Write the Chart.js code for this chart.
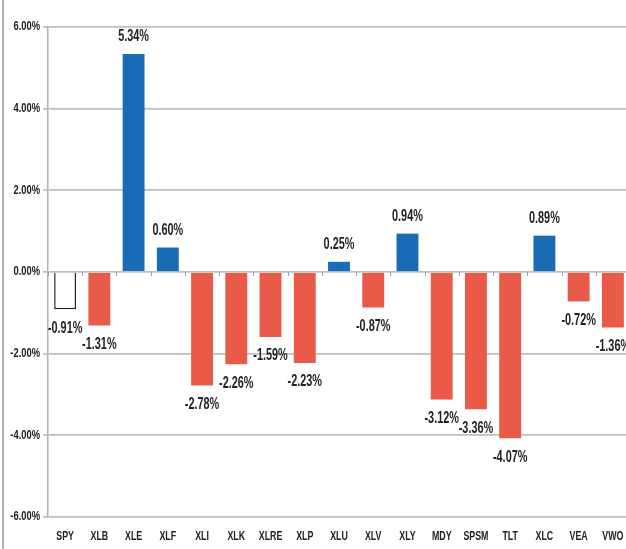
<!DOCTYPE html>
<html>
<head>
<meta charset="utf-8">
<script src="https://cdn.jsdelivr.net/npm/chart.js@4"></script>
<style>
	html, body { margin: 0; padding: 0; background: #fff; }
	#wrap { position: relative; width: 626px; height: 549px; overflow: hidden; }
</style>
</head>
<body>
<div id="wrap"><canvas id="etfChart" width="630" height="549"></canvas></div>
<script>
const tickers = ['SPY', 'XLB', 'XLE', 'XLF', 'XLI', 'XLK', 'XLRE', 'XLP', 'XLU', 'XLV', 'XLY', 'MDY', 'SPSM', 'TLT', 'XLC', 'VEA', 'VWO'];
const returns = [-0.91, -1.31, 5.34, 0.60, -2.78, -2.26, -1.59, -2.23, 0.25, -0.87, 0.94, -3.12, -3.36, -4.07, 0.89, -0.72, -1.36];
const yTicks = [-6, -4, -2, 0, 2, 4, 6];

const FONT = '"Liberation Sans", Arial, sans-serif';

// bar colours: benchmark white, gains blue, losses red
const fills = returns.map((v, i) => i === 0 ? '#ffffff' : (v >= 0 ? '#1b6cb7' : '#ea5a48'));
const borders = returns.map((v, i) => i === 0 ? '#222222' : fills[i]);

// source image text is very narrow, so squeeze it horizontally
function narrowText(ctx, txt, x, y, size, align, squeeze) {
	ctx.save();
	ctx.translate(x, y);
	ctx.scale(squeeze, 1);
	ctx.font = 'bold ' + size + 'px ' + FONT;
	ctx.textAlign = align;
	ctx.textBaseline = 'middle';
	ctx.fillText(txt, 0, 0);
	ctx.restore();
}

const narrowLabels = {
	id: 'narrowLabels',
	beforeDraw(chart) {
		const ctx = chart.ctx;
		ctx.save();
		ctx.strokeStyle = '#9a9a9a';
		ctx.lineWidth = 1.5;
		ctx.beginPath();
		ctx.moveTo(3, 0);
		ctx.lineTo(3, chart.height);
		ctx.stroke();
		ctx.restore();
	},
	afterDraw(chart) {
		const ctx = chart.ctx;
		const x = chart.scales.x;
		const y = chart.scales.y;
		ctx.save();
		ctx.fillStyle = '#222';
		// y tick labels
		y.ticks.forEach(t => {
			narrowText(ctx, t.value.toFixed(2) + '%', x.left - 8, y.getPixelForValue(t.value), 12, 'right', 0.78);
		});
		// category labels
		chart.data.labels.forEach((lab, i) => {
			narrowText(ctx, lab, x.getPixelForTick(i), y.bottom + 19, 13, 'center', 0.68);
		});
		ctx.restore();
	},
	afterDatasetsDraw(chart) {
		const ctx = chart.ctx;
		const meta = chart.getDatasetMeta(0);
		const y = chart.scales.y;
		const x = chart.scales.x;
		const zero = y.getPixelForValue(0);
		ctx.save();
		// small ticks at category boundaries on the zero line
		ctx.strokeStyle = '#a0a0a0';
		ctx.lineWidth = 1;
		const step = (x.right - x.left) / tickers.length;
		for (let i = 0; i <= tickers.length; i++) {
			const px = Math.round(x.left + i * step) + 0.5;
			ctx.beginPath();
			ctx.moveTo(px, zero);
			ctx.lineTo(px, zero + 4);
			ctx.stroke();
		}
		ctx.fillStyle = '#222';
		meta.data.forEach((bar, i) => {
			const v = returns[i];
			const ty = v >= 0 ? bar.y - 17 : bar.y + 19;
			narrowText(ctx, v.toFixed(2) + '%', bar.x, ty, 16, 'center', 0.68);
		});
		ctx.restore();
	}
};

const ctx = document.getElementById('etfChart').getContext('2d');
const chart = new Chart(ctx, {
	type: 'bar',
	data: {
		labels: tickers,
		datasets: [{
			data: returns,
			backgroundColor: fills,
			borderColor: borders,
			borderWidth: returns.map((v, i) => i === 0 ? 1.5 : 0),
			categoryPercentage: 1,
			barPercentage: 0.64
		}]
	},
	options: {
		responsive: false,
		animation: false,
		layout: { padding: { top: 27, right: 0, left: 0, bottom: 0 } },
		plugins: {
			legend: { display: false },
			tooltip: { enabled: false }
		},
		scales: {
			x: {
				grid: { display: false },
				border: { display: false },
				ticks: { display: false, autoSkip: false },
				afterFit(s) { s.height = 32; }
			},
			y: {
				min: -6,
				max: 6,
				afterBuildTicks(s) { s.ticks = yTicks.map(v => ({ value: v })); },
				grid: { color: '#bfbfbf', lineWidth: 1.8, drawTicks: true, tickLength: 5 },
				border: { display: true, color: '#b0b0b0', width: 1.5 },
				ticks: { display: false },
				afterFit(s) { s.width = 48; }
			}
		}
	},
	plugins: [narrowLabels]
});
</script>
</body>
</html>
